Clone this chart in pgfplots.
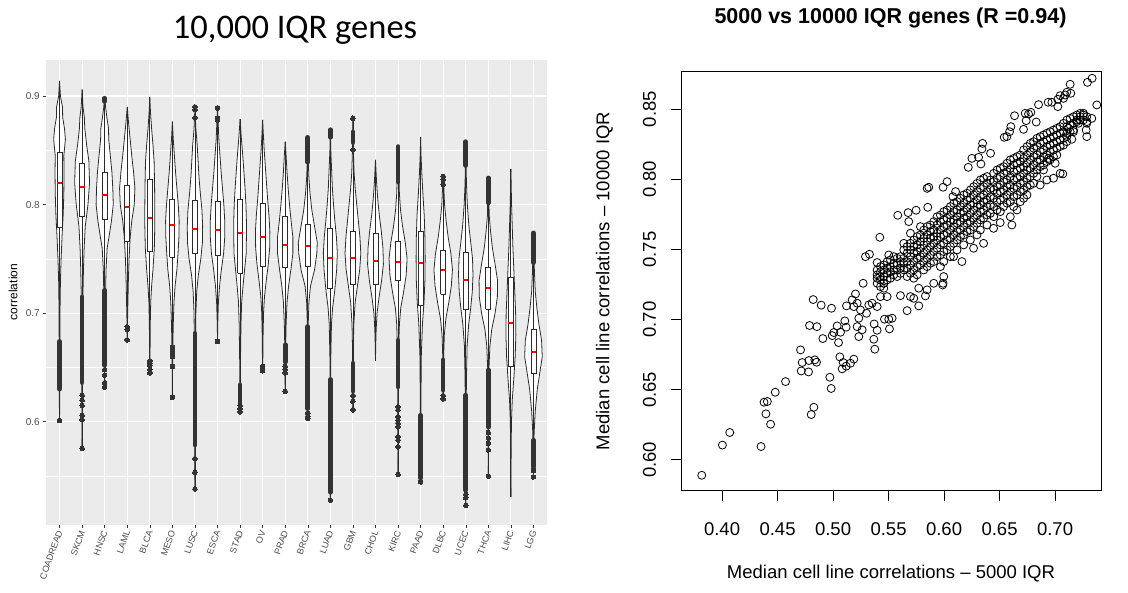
\documentclass[border=0pt]{standalone}
\usepackage{fontspec}
\setmainfont{Liberation Sans}
\newfontfamily\calibri{Carlito}
\usepackage{pgfplots}
\usepackage{pgfplotstable}
\pgfplotsset{compat=1.18}
\definecolor{panelbg}{HTML}{EBEBEB}
\definecolor{tickgrey}{HTML}{4D4D4D}
\definecolor{outgrey}{HTML}{333333}
\definecolor{vcol}{HTML}{2B2B2B}

% violin outlines: y, half width (category units)
\pgfplotstableread[row sep=\\]{y w\\0.601 0\\0.62 0.01\\0.66 0.015\\0.70 0.02\\0.73 0.04\\0.75 0.07\\0.77 0.11\\0.79 0.16\\0.81 0.19\\0.83 0.2\\0.845 0.19\\0.86 0.26\\0.87 0.22\\0.88 0.14\\0.89 0.13\\0.90 0.04\\0.914 0\\}\tA
\pgfplotstableread[row sep=\\]{y w\\0.5755 0\\0.62 0.01\\0.66 0.02\\0.70 0.03\\0.72 0.04\\0.74 0.06\\0.76 0.09\\0.78 0.14\\0.80 0.26\\0.82 0.33\\0.84 0.30\\0.855 0.2\\0.87 0.12\\0.88 0.1\\0.89 0.04\\0.906 0\\}\tB
\pgfplotstableread[row sep=\\]{y w\\0.632 0\\0.66 0.015\\0.70 0.025\\0.72 0.04\\0.74 0.06\\0.76 0.11\\0.77 0.19\\0.785 0.30\\0.80 0.38\\0.815 0.36\\0.83 0.32\\0.845 0.25\\0.86 0.18\\0.87 0.17\\0.88 0.1\\0.89 0.04\\0.899 0\\}\tC
\pgfplotstableread[row sep=\\]{y w\\0.6754 0\\0.69 0.01\\0.71 0.03\\0.73 0.05\\0.75 0.08\\0.77 0.13\\0.785 0.2\\0.80 0.31\\0.815 0.34\\0.83 0.28\\0.845 0.2\\0.86 0.13\\0.875 0.06\\0.89 0\\}\tD
\pgfplotstableread[row sep=\\]{y w\\0.645 0\\0.66 0.01\\0.69 0.02\\0.71 0.04\\0.725 0.08\\0.74 0.14\\0.76 0.2\\0.78 0.22\\0.80 0.22\\0.82 0.21\\0.84 0.19\\0.855 0.14\\0.87 0.08\\0.885 0.03\\0.899 0\\}\tE
\pgfplotstableread[row sep=\\]{y w\\0.6225 0\\0.65 0.01\\0.67 0.02\\0.69 0.04\\0.71 0.07\\0.725 0.12\\0.74 0.2\\0.755 0.25\\0.77 0.29\\0.785 0.3\\0.80 0.26\\0.815 0.2\\0.83 0.14\\0.845 0.09\\0.86 0.04\\0.8765 0\\}\tF
\pgfplotstableread[row sep=\\]{y w\\0.538 0\\0.58 0.01\\0.63 0.02\\0.67 0.025\\0.70 0.04\\0.72 0.08\\0.735 0.15\\0.75 0.26\\0.765 0.33\\0.78 0.34\\0.795 0.31\\0.81 0.24\\0.825 0.18\\0.84 0.14\\0.855 0.1\\0.87 0.04\\0.89 0\\}\tG
\pgfplotstableread[row sep=\\]{y w\\0.674 0\\0.69 0.01\\0.71 0.04\\0.725 0.09\\0.74 0.17\\0.755 0.27\\0.77 0.32\\0.785 0.32\\0.80 0.28\\0.815 0.22\\0.83 0.16\\0.845 0.11\\0.86 0.06\\0.875 0.03\\0.889 0\\}\tH
\pgfplotstableread[row sep=\\]{y w\\0.609 0\\0.63 0.01\\0.66 0.02\\0.69 0.04\\0.71 0.07\\0.725 0.13\\0.74 0.2\\0.755 0.27\\0.77 0.28\\0.785 0.28\\0.80 0.26\\0.815 0.22\\0.83 0.17\\0.845 0.12\\0.86 0.06\\0.8786 0\\}\tI
\pgfplotstableread[row sep=\\]{y w\\0.647 0\\0.66 0.01\\0.68 0.02\\0.70 0.04\\0.715 0.08\\0.73 0.16\\0.745 0.25\\0.76 0.31\\0.775 0.32\\0.79 0.28\\0.805 0.22\\0.82 0.17\\0.835 0.12\\0.85 0.07\\0.865 0.03\\0.878 0\\}\tJ
\pgfplotstableread[row sep=\\]{y w\\0.628 0\\0.65 0.01\\0.67 0.02\\0.69 0.04\\0.71 0.08\\0.725 0.15\\0.74 0.25\\0.755 0.34\\0.77 0.34\\0.785 0.26\\0.80 0.19\\0.815 0.13\\0.83 0.08\\0.845 0.04\\0.858 0\\}\tK
\pgfplotstableread[row sep=\\]{y w\\0.603 0\\0.63 0.01\\0.66 0.015\\0.69 0.02\\0.71 0.05\\0.725 0.12\\0.74 0.3\\0.755 0.4\\0.765 0.42\\0.78 0.3\\0.795 0.18\\0.81 0.1\\0.825 0.05\\0.84 0.02\\0.8627 0\\}\tL
\pgfplotstableread[row sep=\\]{y w\\0.5277 0\\0.57 0.01\\0.62 0.015\\0.66 0.02\\0.69 0.05\\0.705 0.1\\0.72 0.19\\0.74 0.28\\0.755 0.31\\0.77 0.27\\0.785 0.2\\0.80 0.14\\0.815 0.09\\0.83 0.06\\0.85 0.02\\0.869 0\\}\tM
\pgfplotstableread[row sep=\\]{y w\\0.611 0\\0.64 0.01\\0.67 0.02\\0.69 0.04\\0.71 0.1\\0.725 0.2\\0.74 0.3\\0.755 0.35\\0.77 0.31\\0.785 0.24\\0.80 0.17\\0.815 0.1\\0.83 0.05\\0.85 0.02\\0.8795 0\\}\tN
\pgfplotstableread[row sep=\\]{y w\\0.656 0\\0.67 0.01\\0.685 0.03\\0.70 0.07\\0.715 0.16\\0.73 0.27\\0.745 0.35\\0.76 0.33\\0.775 0.26\\0.79 0.17\\0.805 0.1\\0.82 0.05\\0.8413 0\\}\tO
\pgfplotstableread[row sep=\\]{y w\\0.5517 0\\0.60 0.01\\0.64 0.02\\0.67 0.03\\0.69 0.06\\0.705 0.12\\0.72 0.25\\0.735 0.36\\0.75 0.4\\0.765 0.32\\0.78 0.2\\0.795 0.11\\0.81 0.06\\0.83 0.03\\0.8535 0\\}\tP
\pgfplotstableread[row sep=\\]{y w\\0.5446 0\\0.58 0.01\\0.62 0.015\\0.66 0.03\\0.69 0.08\\0.71 0.15\\0.73 0.19\\0.75 0.2\\0.77 0.19\\0.79 0.16\\0.81 0.1\\0.83 0.05\\0.845 0.02\\0.862 0\\}\tQ
\pgfplotstableread[row sep=\\]{y w\\0.621 0\\0.64 0.01\\0.66 0.02\\0.68 0.05\\0.695 0.12\\0.71 0.25\\0.725 0.36\\0.74 0.41\\0.755 0.34\\0.77 0.22\\0.785 0.13\\0.80 0.06\\0.815 0.03\\0.826 0\\}\tR
\pgfplotstableread[row sep=\\]{y w\\0.523 0\\0.56 0.01\\0.60 0.015\\0.64 0.03\\0.67 0.06\\0.69 0.13\\0.705 0.22\\0.72 0.29\\0.735 0.32\\0.75 0.3\\0.765 0.22\\0.78 0.14\\0.80 0.07\\0.82 0.03\\0.858 0\\}\tS
\pgfplotstableread[row sep=\\]{y w\\0.55 0\\0.58 0.01\\0.62 0.015\\0.65 0.03\\0.67 0.07\\0.685 0.15\\0.70 0.3\\0.715 0.4\\0.73 0.41\\0.745 0.3\\0.76 0.18\\0.775 0.1\\0.79 0.04\\0.81 0.02\\0.8246 0\\}\tT
\pgfplotstableread[row sep=\\]{y w\\0.5308 0\\0.57 0.01\\0.60 0.025\\0.62 0.06\\0.64 0.13\\0.66 0.19\\0.68 0.22\\0.70 0.21\\0.72 0.17\\0.74 0.13\\0.76 0.09\\0.78 0.06\\0.80 0.03\\0.8327 0\\}\tU
\pgfplotstableread[row sep=\\]{y w\\0.5492 0\\0.57 0.01\\0.59 0.03\\0.61 0.08\\0.63 0.17\\0.645 0.28\\0.66 0.39\\0.675 0.36\\0.69 0.24\\0.705 0.15\\0.72 0.08\\0.74 0.04\\0.76 0.02\\0.774 0\\}\tV

\pgfplotsset{
  vstyle/.style={draw=vcol, fill=white, line width=0.8pt, line join=round},
  vline/.style={draw=vcol, line width=0.8pt},
}
% #1 centre, #2 outline table, #3/#4 box left/right, #5 q1, #6 median, #7 q3, #8 min, #9 max
\newcommand{\vio}[9]{%
  \addplot[vstyle] table[x expr=#1+\thisrow{w}, y=y]{#2};
  \addplot[vstyle] table[x expr=#1-\thisrow{w}, y=y]{#2};
  \addplot[vline] coordinates {(#1,#8) (#1,#9)};
  \addplot[vline, fill=white] coordinates {(#3,#5) (#4,#5) (#4,#7) (#3,#7) (#3,#5)};
  \addplot[draw=red, line width=2pt] coordinates {(#3,#6) (#4,#6)};
}
\newcommand{\dense}[3]{\addplot[draw=outgrey, line width=4.6pt, line cap=round] coordinates {(#1,#2) (#1,#3)};}
\newcommand{\pts}[1]{\addplot[only marks, mark=*, mark size=2.3pt, mark options={draw=outgrey, fill=outgrey, line width=0pt}] coordinates {#1};}

\begin{document}
\begin{tikzpicture}[x=1pt, y=1pt]
\useasboundingbox (0,0) rectangle (1128,593);

% ---------------- left panel ----------------
\node[font=\calibri\fontsize{34.5}{38}\selectfont, anchor=base] at (295,554.5) {10,000 IQR genes};
\node[font=\fontsize{12}{14}\selectfont, rotate=90] at (13,301) {correlation};
\begin{axis}[
  at={(46pt,68pt)}, anchor=south west,
  scale only axis, width=501pt, height=465pt,
  xmin=0.4, xmax=22.6, ymin=0.5049, ymax=0.9332,
  axis background/.style={fill=panelbg},
  axis line style={draw=none},
  xtick={1,2,...,22},
  xticklabels={COADREAD,SKCM,HNSC,LAML,BLCA,MESO,LUSC,ESCA,STAD,OV,PRAD,BRCA,LUAD,GBM,CHOL,KIRC,PAAD,DLBC,UCEC,THCA,LIHC,LGG},
  ytick={0.6,0.7,0.8,0.9}, yticklabels={0.6,0.7,0.8,0.9},
  minor ytick={0.55,0.65,0.75,0.85},
  xmajorgrids, ymajorgrids, yminorgrids,
  major grid style={white, line width=1.1pt},
  minor grid style={white, line width=0.55pt},
  tick align=outside, major tick length=2.7pt, minor tick length=0pt,
  tick style={draw=outgrey, line width=0.5pt},
  xtick pos=bottom, ytick pos=left,
  /pgf/number format/assume math mode=true,
  yticklabel style={font=\fontsize{10}{12}\selectfont, text=tickgrey},
  xticklabel style={font=\fontsize{9}{10}\selectfont, text=tickgrey, xshift=1.5pt, rotate=70, anchor=east},
]
\vio{1}{\tA}{0.89}{1.11}{0.779}{0.820}{0.848}{0.601}{0.914}
\dense{1}{0.630}{0.674} \pts{(1,0.601)}
\vio{2}{\tB}{1.89}{2.11}{0.789}{0.8165}{0.838}{0.5755}{0.906}
\dense{2}{0.636}{0.715} \pts{(2,0.6245) (2,0.620) (2,0.615) (2,0.606) (2,0.602) (2,0.5755)}
\vio{3}{\tC}{2.89}{3.11}{0.786}{0.809}{0.830}{0.632}{0.899}
\dense{3}{0.652}{0.721} \pts{(3,0.648) (3,0.643) (3,0.636) (3,0.632)} \dense{3}{0.895}{0.898}
\vio{4}{\tD}{3.89}{4.11}{0.766}{0.7975}{0.818}{0.6754}{0.890}
\pts{(4,0.6875) (4,0.685) (4,0.6754)}
\vio{5}{\tE}{4.89}{5.11}{0.757}{0.788}{0.823}{0.645}{0.899}
\pts{(5,0.656) (5,0.654) (5,0.652) (5,0.648) (5,0.645)}
\vio{6}{\tF}{5.89}{6.11}{0.7515}{0.7812}{0.8046}{0.6225}{0.8765}
\pts{(6,0.669) (6,0.666) (6,0.663) (6,0.660) (6,0.651) (6,0.6225)}
\vio{7}{\tG}{6.89}{7.11}{0.7546}{0.7776}{0.8037}{0.538}{0.890}
\dense{7}{0.5785}{0.6815} \pts{(7,0.566) (7,0.5535) (7,0.538) (7,0.890) (7,0.8875) (7,0.880)}
\vio{8}{\tH}{7.89}{8.11}{0.7536}{0.7765}{0.803}{0.674}{0.889}
\pts{(8,0.674) (8,0.889) (8,0.8795) (8,0.878)}
\vio{9}{\tI}{8.89}{9.11}{0.7368}{0.774}{0.8051}{0.609}{0.8786}
\dense{9}{0.618}{0.634} \pts{(9,0.615) (9,0.612) (9,0.609)}
\vio{10}{\tJ}{9.89}{10.11}{0.7427}{0.7702}{0.8015}{0.647}{0.878}
\pts{(10,0.651) (10,0.649) (10,0.647)}
\vio{11}{\tK}{10.89}{11.11}{0.7417}{0.7632}{0.789}{0.628}{0.858}
\dense{11}{0.655}{0.671} \pts{(11,0.651) (11,0.648) (11,0.645) (11,0.628)}
\vio{12}{\tL}{11.89}{12.11}{0.743}{0.762}{0.7815}{0.603}{0.8627}
\dense{12}{0.612}{0.6877} \pts{(12,0.608) (12,0.605) (12,0.603)} \dense{12}{0.839}{0.862}
\vio{13}{\tM}{12.89}{13.11}{0.7225}{0.7508}{0.7785}{0.5277}{0.869}
\dense{13}{0.535}{0.639} \pts{(13,0.5277)} \dense{13}{0.862}{0.869}
\vio{14}{\tN}{13.89}{14.11}{0.7268}{0.7505}{0.7754}{0.611}{0.8795}
\dense{14}{0.628}{0.654} \pts{(14,0.624) (14,0.619) (14,0.611) (14,0.8795) (14,0.8505)} \dense{14}{0.857}{0.867}
\vio{15}{\tO}{14.89}{15.11}{0.7262}{0.748}{0.7738}{0.656}{0.8413}
\vio{16}{\tP}{15.89}{16.11}{0.7298}{0.7468}{0.7662}{0.5517}{0.8535}
\dense{16}{0.632}{0.675} \pts{(16,0.6138) (16,0.6108) (16,0.6046) (16,0.6015) (16,0.5985) (16,0.5954) (16,0.5862) (16,0.5831) (16,0.5769) (16,0.5517)} \dense{16}{0.8208}{0.8535}
\vio{17}{\tQ}{16.89}{17.11}{0.7074}{0.7458}{0.7754}{0.5446}{0.862}
\dense{17}{0.548}{0.606} \pts{(17,0.5446)}
\vio{18}{\tR}{17.89}{18.11}{0.7172}{0.7394}{0.7578}{0.621}{0.826}
\dense{18}{0.629}{0.657} \pts{(18,0.624) (18,0.621) (18,0.826) (18,0.823) (18,0.8185)}
\vio{19}{\tS}{18.89}{19.11}{0.7031}{0.7308}{0.756}{0.523}{0.858}
\dense{19}{0.537}{0.6246} \pts{(19,0.533) (19,0.530) (19,0.523)} \dense{19}{0.836}{0.858}
\vio{20}{\tT}{19.89}{20.11}{0.7037}{0.723}{0.7425}{0.55}{0.8246}
\dense{20}{0.595}{0.6477} \pts{(20,0.590) (20,0.585) (20,0.580) (20,0.574) (20,0.55)} \dense{20}{0.8015}{0.8246}
\vio{21}{\tU}{20.89}{21.11}{0.6514}{0.6908}{0.7332}{0.5308}{0.8327}
\vio{22}{\tV}{21.89}{22.11}{0.6446}{0.6646}{0.6852}{0.5492}{0.774}
\dense{22}{0.5585}{0.583} \pts{(22,0.555) (22,0.5492)} \dense{22}{0.7465}{0.774}
\end{axis}

% ---------------- right panel ----------------
\node[font=\bfseries\fontsize{21.5}{24}\selectfont, anchor=base] at (890.5,569) {5000 vs 10000 IQR genes (R =0.94)};
\node[font=\fontsize{18.5}{21}\selectfont, anchor=base] at (891,14.5) {Median cell line correlations -- 5000 IQR};
\node[font=\fontsize{18.5}{21}\selectfont, rotate=90] at (604.5,312) {Median cell line correlations -- 10000 IQR};
\begin{axis}[
  at={(681pt,102.3pt)}, anchor=south west,
  scale only axis, width=420pt, height=419pt,
  xmin=0.363, xmax=0.7414, ymin=0.578, ymax=0.8768,
  axis line style={black, line width=0.9pt},
  xtick={0.40,0.45,0.50,0.55,0.60,0.65,0.70},
  xticklabels={0.40,0.45,0.50,0.55,0.60,0.65,0.70},
  ytick={0.60,0.65,0.70,0.75,0.80,0.85},
  yticklabels={0.60,0.65,0.70,0.75,0.80,0.85},
  tick align=outside, major tick length=10pt,
  tick style={black, line width=0.9pt},
  xtick pos=bottom, ytick pos=left,
  /pgf/number format/assume math mode=true,
  xticklabel style={font=\fontsize{18.5}{21}\selectfont, anchor=center, yshift=-28pt},
  yticklabel style={font=\fontsize{18.5}{21}\selectfont, xshift=-21.5pt, rotate=90, anchor=center},
]
\addplot[only marks, mark=o, mark size=4pt, mark options={draw=black, line width=0.8pt}] table[row sep=\\]{
x y\\
0.3817 0.5890\\ 0.4003 0.6105\\ 0.4069 0.6195\\ 0.4351 0.6095\\ 0.4378 0.6411\\ 0.4408 0.6416\\
0.4395 0.6328\\ 0.4437 0.6254\\ 0.4479 0.6482\\ 0.4572 0.6558\\ 0.4803 0.6323\\ 0.4827 0.6375\\
0.4707 0.6784\\ 0.4722 0.6694\\ 0.4713 0.6634\\ 0.4779 0.6627\\ 0.4782 0.6708\\ 0.4836 0.6713\\
0.4851 0.6696\\ 0.4971 0.6589\\ 0.4983 0.6509\\ 0.5061 0.6734\\ 0.5082 0.6649\\ 0.5118 0.6668\\
0.5157 0.6689\\ 0.5187 0.6718\\ 0.5091 0.6694\\ 0.4821 0.7143\\ 0.4893 0.7103\\ 0.4986 0.7081\\
0.4788 0.6958\\ 0.4854 0.6950\\ 0.4908 0.6865\\ 0.4992 0.6886\\ 0.5007 0.6908\\ 0.5037 0.6955\\
0.5067 0.6910\\ 0.5049 0.6836\\ 0.5106 0.6991\\ 0.5118 0.6946\\ 0.5121 0.7098\\ 0.5172 0.7141\\
0.5202 0.7183\\ 0.5271 0.7259\\ 0.5217 0.7117\\ 0.5247 0.7069\\ 0.5301 0.7045\\ 0.5322 0.7105\\
0.5352 0.7117\\ 0.5397 0.7093\\ 0.5187 0.7093\\ 0.5232 0.7010\\ 0.5217 0.6950\\ 0.5262 0.6927\\
0.5232 0.6879\\ 0.5370 0.6969\\ 0.5397 0.6924\\ 0.5367 0.6860\\ 0.5376 0.6789\\ 0.5463 0.7003\\
0.5502 0.7003\\ 0.5532 0.7010\\ 0.5508 0.6934\\ 0.5292 0.7449\\ 0.5328 0.7466\\ 0.5421 0.7587\\
0.5397 0.7407\\ 0.5502 0.7461\\ 0.5421 0.7307\\ 0.5457 0.7259\\ 0.5427 0.7164\\ 0.5487 0.7164\\
0.5607 0.7171\\ 0.5667 0.7064\\ 0.5697 0.7164\\ 0.5727 0.7152\\ 0.5772 0.7098\\ 0.5772 0.7224\\
0.5832 0.7169\\ 0.5847 0.7212\\ 0.5907 0.7259\\ 0.5987 0.7247\\ 0.5997 0.7307\\ 0.5583 0.7744\\
0.5676 0.7763\\ 0.5682 0.7699\\ 0.5748 0.7780\\ 0.5853 0.7801\\ 0.5697 0.7616\\ 0.5787 0.7663\\
0.5637 0.7544\\ 0.5847 0.7936\\ 0.5862 0.7944\\ 0.5991 0.7944\\ 0.6027 0.7984\\ 0.6080 0.7877\\
0.6104 0.7913\\ 0.6218 0.8086\\ 0.6251 0.8150\\ 0.6311 0.8157\\ 0.6332 0.8110\\ 0.6347 0.8257\\
0.6341 0.8217\\ 0.6419 0.8186\\ 0.6542 0.8300\\ 0.6566 0.8305\\ 0.6590 0.8340\\ 0.6602 0.8376\\
0.6635 0.8454\\ 0.6716 0.8357\\ 0.6740 0.8419\\ 0.6761 0.8466\\ 0.6782 0.8478\\ 0.6830 0.8409\\
0.6731 0.8471\\ 0.6851 0.8533\\ 0.6938 0.8550\\ 0.6971 0.8550\\ 0.7025 0.8571\\ 0.7025 0.8519\\
0.7046 0.8597\\ 0.7091 0.8602\\ 0.7106 0.8621\\ 0.7136 0.8678\\ 0.7076 0.8578\\ 0.7142 0.8614\\
0.7292 0.8692\\ 0.7334 0.8721\\ 0.7376 0.8531\\ 0.7106 0.8305\\ 0.7121 0.8364\\ 0.7151 0.8286\\
0.7166 0.8340\\ 0.7196 0.8424\\ 0.7226 0.8447\\ 0.7256 0.8471\\ 0.7286 0.8412\\ 0.7286 0.8305\\
0.7331 0.8435\\ 0.7280 0.8352\\ 0.7211 0.8400\\ 0.7046 0.8043\\ 0.7070 0.8039\\ 0.6986 0.8008\\
0.6926 0.7996\\ 0.7001 0.8115\\ 0.7016 0.8174\\ 0.6941 0.8150\\ 0.6896 0.8067\\ 0.6866 0.7960\\
0.6611 0.7675\\ 0.6506 0.7692\\ 0.6446 0.7651\\ 0.6356 0.7544\\ 0.6266 0.7509\\ 0.6161 0.7414\\
0.6086 0.7449\\ 0.5991 0.7259\\
0.5397 0.7354\\ 0.5397 0.7295\\ 0.5397 0.7259\\ 0.5397 0.7319\\
0.5427 0.7378\\ 0.5427 0.7342\\ 0.5427 0.7283\\ 0.5427 0.7235\\
0.5457 0.7390\\ 0.5457 0.7354\\ 0.5457 0.7307\\ 0.5457 0.7259\\ 0.5457 0.7224\\
0.5487 0.7414\\ 0.5487 0.7366\\ 0.5487 0.7330\\ 0.5487 0.7283\\
0.5517 0.7426\\ 0.5517 0.7378\\ 0.5517 0.7342\\ 0.5517 0.7295\\
0.5547 0.7449\\ 0.5547 0.7402\\ 0.5547 0.7354\\ 0.5547 0.7319\\
0.5577 0.7437\\ 0.5577 0.7390\\ 0.5577 0.7354\\ 0.5577 0.7307\\
0.5607 0.7449\\ 0.5607 0.7414\\ 0.5607 0.7366\\ 0.5607 0.7330\\
0.5637 0.7497\\ 0.5637 0.7437\\ 0.5637 0.7402\\ 0.5637 0.7354\\
0.5667 0.7521\\ 0.5667 0.7473\\ 0.5667 0.7414\\ 0.5667 0.7366\\ 0.5667 0.7307\\
0.5697 0.7544\\ 0.5697 0.7497\\ 0.5697 0.7449\\ 0.5697 0.7390\\ 0.5697 0.7330\\
0.5727 0.7568\\ 0.5727 0.7521\\ 0.5727 0.7473\\ 0.5727 0.7414\\ 0.5727 0.7354\\ 0.5727 0.7295\\
0.5757 0.7592\\ 0.5757 0.7533\\ 0.5757 0.7485\\ 0.5757 0.7437\\ 0.5757 0.7378\\ 0.5757 0.7319\\
0.5787 0.7604\\ 0.5787 0.7556\\ 0.5787 0.7509\\ 0.5787 0.7449\\ 0.5787 0.7390\\
0.5817 0.7639\\ 0.5817 0.7580\\ 0.5817 0.7533\\ 0.5817 0.7473\\ 0.5817 0.7414\\ 0.5817 0.7354\\
0.5847 0.7663\\ 0.5847 0.7604\\ 0.5847 0.7556\\ 0.5847 0.7497\\ 0.5847 0.7437\\ 0.5847 0.7378\\
0.5877 0.7675\\ 0.5877 0.7628\\ 0.5877 0.7580\\ 0.5877 0.7521\\ 0.5877 0.7461\\ 0.5877 0.7402\\
0.5907 0.7699\\ 0.5907 0.7639\\ 0.5907 0.7592\\ 0.5907 0.7544\\ 0.5907 0.7485\\ 0.5907 0.7414\\
0.5937 0.7734\\ 0.5937 0.7675\\ 0.5937 0.7616\\ 0.5937 0.7568\\ 0.5937 0.7509\\ 0.5937 0.7449\\
0.5967 0.7746\\ 0.5967 0.7699\\ 0.5967 0.7639\\ 0.5967 0.7592\\ 0.5967 0.7533\\ 0.5967 0.7461\\ 0.5967 0.7378\\
0.5997 0.7770\\ 0.5997 0.7711\\ 0.5997 0.7663\\ 0.5997 0.7604\\ 0.5997 0.7544\\ 0.5997 0.7485\\ 0.5997 0.7414\\
0.6027 0.7782\\ 0.6027 0.7723\\ 0.6027 0.7675\\ 0.6027 0.7616\\ 0.6027 0.7568\\ 0.6027 0.7497\\
0.6057 0.7806\\ 0.6057 0.7746\\ 0.6057 0.7699\\ 0.6057 0.7639\\ 0.6057 0.7580\\ 0.6057 0.7521\\ 0.6057 0.7449\\
0.6087 0.7830\\ 0.6087 0.7770\\ 0.6087 0.7711\\ 0.6087 0.7663\\ 0.6087 0.7604\\ 0.6087 0.7544\\
0.6117 0.7841\\ 0.6117 0.7782\\ 0.6117 0.7734\\ 0.6117 0.7687\\ 0.6117 0.7628\\ 0.6117 0.7568\\ 0.6117 0.7497\\
0.6147 0.7865\\ 0.6147 0.7806\\ 0.6147 0.7758\\ 0.6147 0.7699\\ 0.6147 0.7639\\ 0.6147 0.7592\\
0.6177 0.7889\\ 0.6177 0.7830\\ 0.6177 0.7770\\ 0.6177 0.7723\\ 0.6177 0.7663\\ 0.6177 0.7604\\ 0.6177 0.7533\\
0.6207 0.7901\\ 0.6207 0.7853\\ 0.6207 0.7794\\ 0.6207 0.7734\\ 0.6207 0.7687\\ 0.6207 0.7628\\
0.6237 0.7925\\ 0.6237 0.7865\\ 0.6237 0.7818\\ 0.6237 0.7758\\ 0.6237 0.7699\\ 0.6237 0.7639\\ 0.6237 0.7568\\
0.6267 0.7948\\ 0.6267 0.7889\\ 0.6267 0.7830\\ 0.6267 0.7782\\ 0.6267 0.7723\\ 0.6267 0.7663\\
0.6297 0.7972\\ 0.6297 0.7913\\ 0.6297 0.7853\\ 0.6297 0.7806\\ 0.6297 0.7746\\ 0.6297 0.7687\\ 0.6297 0.7604\\
0.6327 0.7996\\ 0.6327 0.7936\\ 0.6327 0.7877\\ 0.6327 0.7818\\ 0.6327 0.7770\\ 0.6327 0.7711\\ 0.6327 0.7639\\
0.6357 0.8008\\ 0.6357 0.7948\\ 0.6357 0.7889\\ 0.6357 0.7841\\ 0.6357 0.7782\\ 0.6357 0.7723\\
0.6387 0.8020\\ 0.6387 0.7972\\ 0.6387 0.7913\\ 0.6387 0.7853\\ 0.6387 0.7806\\ 0.6387 0.7746\\ 0.6387 0.7675\\
0.6417 0.7996\\ 0.6417 0.7936\\ 0.6417 0.7877\\ 0.6417 0.7818\\ 0.6417 0.7758\\
0.6447 0.8043\\ 0.6447 0.7984\\ 0.6447 0.7925\\ 0.6447 0.7865\\ 0.6447 0.7806\\ 0.6447 0.7734\\
0.6477 0.8067\\ 0.6477 0.8008\\ 0.6477 0.7948\\ 0.6477 0.7901\\ 0.6477 0.7841\\ 0.6477 0.7782\\
0.6507 0.8079\\ 0.6507 0.8020\\ 0.6507 0.7960\\ 0.6507 0.7913\\ 0.6507 0.7853\\ 0.6507 0.7770\\
0.6537 0.8091\\ 0.6537 0.8043\\ 0.6537 0.7984\\ 0.6537 0.7925\\ 0.6537 0.7865\\ 0.6537 0.7806\\
0.6567 0.8115\\ 0.6567 0.8055\\ 0.6567 0.7996\\ 0.6567 0.7948\\ 0.6567 0.7889\\ 0.6567 0.7830\\
0.6597 0.8139\\ 0.6597 0.8079\\ 0.6597 0.8020\\ 0.6597 0.7960\\ 0.6597 0.7913\\ 0.6597 0.7841\\ 0.6597 0.7734\\
0.6627 0.8150\\ 0.6627 0.8103\\ 0.6627 0.8055\\ 0.6627 0.7996\\ 0.6627 0.7936\\ 0.6627 0.7877\\ 0.6627 0.7806\\
0.6657 0.8162\\ 0.6657 0.8115\\ 0.6657 0.8067\\ 0.6657 0.8008\\ 0.6657 0.7948\\ 0.6657 0.7889\\ 0.6657 0.7782\\
0.6687 0.8174\\ 0.6687 0.8127\\ 0.6687 0.8079\\ 0.6687 0.8020\\ 0.6687 0.7972\\ 0.6687 0.7913\\ 0.6687 0.7841\\
0.6717 0.8210\\ 0.6717 0.8150\\ 0.6717 0.8091\\ 0.6717 0.8043\\ 0.6717 0.7984\\ 0.6717 0.7925\\ 0.6717 0.7865\\
0.6747 0.8234\\ 0.6747 0.8174\\ 0.6747 0.8115\\ 0.6747 0.8067\\ 0.6747 0.8008\\ 0.6747 0.7948\\ 0.6747 0.7889\\
0.6777 0.8257\\ 0.6777 0.8198\\ 0.6777 0.8139\\ 0.6777 0.8079\\ 0.6777 0.8020\\ 0.6777 0.7960\\
0.6807 0.8269\\ 0.6807 0.8222\\ 0.6807 0.8162\\ 0.6807 0.8103\\ 0.6807 0.8043\\ 0.6807 0.7972\\
0.6837 0.8293\\ 0.6837 0.8234\\ 0.6837 0.8174\\ 0.6837 0.8127\\ 0.6837 0.8067\\ 0.6837 0.8020\\
0.6867 0.8305\\ 0.6867 0.8257\\ 0.6867 0.8198\\ 0.6867 0.8139\\ 0.6867 0.8091\\
0.6897 0.8317\\ 0.6897 0.8269\\ 0.6897 0.8210\\ 0.6897 0.8162\\ 0.6897 0.8103\\
0.6926 0.8329\\ 0.6926 0.8281\\ 0.6926 0.8234\\ 0.6926 0.8174\\ 0.6926 0.8127\\
0.6956 0.8340\\ 0.6956 0.8293\\ 0.6956 0.8245\\ 0.6956 0.8198\\ 0.6956 0.8139\\
0.6986 0.8352\\ 0.6986 0.8305\\ 0.6986 0.8257\\ 0.6986 0.8210\\ 0.6986 0.8162\\
0.7016 0.8364\\ 0.7016 0.8317\\ 0.7016 0.8269\\ 0.7016 0.8222\\
0.7046 0.8376\\ 0.7046 0.8329\\ 0.7046 0.8281\\ 0.7046 0.8234\\
0.7076 0.8400\\ 0.7076 0.8340\\ 0.7076 0.8293\\ 0.7076 0.8245\\
0.7106 0.8424\\ 0.7106 0.8376\\ 0.7106 0.8329\\ 0.7106 0.8269\\
0.7136 0.8435\\ 0.7136 0.8388\\ 0.7136 0.8340\\
0.7166 0.8447\\ 0.7166 0.8400\\ 0.7166 0.8352\\
0.7196 0.8459\\ 0.7196 0.8412\\
0.7226 0.8471\\ 0.7226 0.8424\\
0.7256 0.8459\\ 0.7256 0.8424\\
0.7286 0.8447\\ 0.7286 0.8400\\
};
\end{axis}
\end{tikzpicture}
\end{document}
